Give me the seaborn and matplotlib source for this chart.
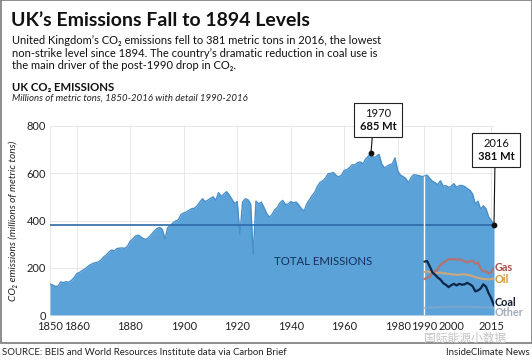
import numpy as np
import pandas as pd
import seaborn as sns
import matplotlib.pyplot as plt
from matplotlib.offsetbox import TextArea, VPacker, AnnotationBbox
from matplotlib.patches import Rectangle

# UK CO2 emissions, million tonnes, 1850-2016
years = np.arange(1850, 2017)
total = [
    131, 127, 121, 122, 140, 137, 141, 139, 146, 158,   # 1850s
    175, 180, 188, 194, 204, 212, 218, 222, 224, 232,   # 1860s
    245, 254, 266, 275, 271, 281, 283, 284, 282, 292,   # 1870s
    312, 322, 335, 338, 330, 323, 320, 330, 342, 356,   # 1880s
    366, 371, 362, 322, 370, 378, 390, 398, 403, 426,   # 1890s
    432, 436, 444, 450, 452, 462, 478, 492, 480, 486,   # 1900s
    494, 500, 485, 518, 502, 512, 522, 508, 490, 472,   # 1910s
    480, 340, 478, 492, 488, 470, 258, 482, 470, 478,   # 1920s
    455, 430, 414, 425, 445, 455, 475, 485, 468, 470,   # 1930s
    480, 475, 478, 466, 450, 440, 470, 488, 505, 520,   # 1940s
    545, 562, 568, 580, 598, 600, 603, 590, 585, 592,   # 1950s
    612, 615, 624, 636, 635, 645, 648, 640, 660, 672,   # 1960s
    685, 665, 672, 680, 640, 622, 630, 636, 640, 665,   # 1970s
    610, 592, 586, 578, 560, 582, 594, 592, 590, 586,   # 1980s
    588, 592, 578, 566, 560, 552, 568, 545, 548, 540,   # 1990s
    545, 556, 540, 548, 548, 544, 535, 528, 512, 470,   # 2000s
    482, 448, 462, 450, 415, 400, 381,                  # 2010-2016
]

# detail by fuel, 1990-2016
fuel_years = np.arange(1990, 2017)
coal = [226, 228, 205, 180, 170, 158, 150, 135, 128, 118, 126, 132, 125, 132,
        128, 130, 136, 130, 122, 100, 104, 112, 130, 120, 92, 70, 40]
gas = [152, 158, 162, 178, 185, 195, 212, 220, 228, 236, 236, 238, 234, 236,
       232, 228, 222, 228, 230, 218, 222, 196, 186, 184, 176, 180, 200]
oil = [182, 184, 183, 182, 180, 178, 180, 176, 176, 174, 172, 172, 170, 170,
       172, 172, 170, 168, 165, 160, 158, 155, 152, 152, 150, 152, 155]
other = [30, 31, 31, 32, 32, 33, 33, 34, 34, 34, 35, 35, 35, 35,
         35, 35, 35, 35, 34, 33, 33, 33, 33, 33, 32, 32, 31]

tick_years = [1850, 1860, 1880, 1900, 1920, 1940, 1960, 1980, 1990, 2000, 2015]
y_ticks = [0, 200, 400, 600, 800]

sns.set_theme(style="whitegrid")
plt.rcParams['font.family'] = ['Lato', 'DejaVu Sans']

W, H = 532, 360
fx = lambda px: px / W
fy = lambda py: 1 - py / H

fig = plt.figure(figsize=(W / 100, H / 100), dpi=100)
ax = fig.add_axes([fx(50), 45 / H, 444 / W, 189 / H])

df = pd.DataFrame({'year': years, 'total': total})
fuels = pd.DataFrame({'year': fuel_years, 'Coal': coal, 'Gas': gas,
                      'Oil': oil, 'Other': other})

ax.fill_between(df['year'], df['total'], color='#5aa2d8', lw=0, zorder=2)
sns.lineplot(data=df, x='year', y='total', color='#4a8fc8', lw=1, ax=ax, zorder=3)

# 2016 level reference line
ax.axhline(total[-1], color='#2d6aa8', lw=1.2, zorder=4)
ax.vlines(1990, 0, total[1990 - 1850], color='white', lw=1, zorder=4)

fuel_colors = {'Gas': '#b27472', 'Oil': '#c9a880', 'Coal': '#0c2648', 'Other': '#90a8c8'}
for name in ['Other', 'Oil', 'Gas', 'Coal']:
    sns.lineplot(data=fuels, x='year', y=name, color=fuel_colors[name],
                 lw=1.6, alpha=0.6 if name == 'Other' else 1, ax=ax, zorder=5)

label_colors = {'Gas': '#a8524a', 'Oil': '#d4962f', 'Coal': '#111a2a', 'Other': '#a3abb8'}
label_y = {'Gas': 200, 'Oil': 152, 'Coal': 54, 'Other': 9}
for name, yv in label_y.items():
    ax.text(2016.3, yv, name, color=label_colors[name], fontsize=7.8,
            fontweight='bold', va='center', ha='left', clip_on=False)

ax.text(1952, 225, 'TOTAL EMISSIONS', color='#15305a', fontsize=8.2,
        ha='center', va='center', zorder=6)

ax.set_xlim(1850, 2016)
ax.set_ylim(0, 800)
ax.set_xticks(tick_years)
ax.set_xticklabels([str(t) for t in tick_years])
ax.set_yticks(y_ticks)
ax.tick_params(axis='both', length=0, labelsize=8, colors='#222222')
ax.tick_params(axis='x', pad=4.5)
ax.tick_params(axis='y', pad=3)
ax.grid(color='#e4e4e4', lw=0.6)
ax.set_axisbelow(True)
for s in ax.spines.values():
    s.set_visible(False)
ax.set_xlabel('')
ax.set_ylabel('CO₂ emissions (millions of metric tons)', fontsize=7.3,
              fontstyle='italic', color='#222222', labelpad=6)

# callouts
def callout(year, value, dx, dy, rx):
    box = VPacker(children=[
        TextArea(str(year), textprops=dict(size=8, color='#111111')),
        TextArea(f'{value} Mt', textprops=dict(size=8, weight='bold', color='#111111')),
    ], align='center', pad=0, sep=1)
    ab = AnnotationBbox(box, (year, value), xybox=(dx, dy), boxcoords='offset points',
                        frameon=True, pad=0.35, annotation_clip=False,
                        bboxprops=dict(edgecolor='#222222', lw=0.8, facecolor='white'),
                        arrowprops=dict(arrowstyle='-', color='#111111', lw=0.8,
                                        shrinkA=0, shrinkB=0, relpos=(rx, 0)))
    ab.set_zorder(7)
    ax.add_artist(ab)
    ax.scatter([year], [value], s=10, color='#111111', zorder=8, clip_on=False)

callout(1970, total[1970 - 1850], 5, 24, 0.36)
callout(2016, total[-1], 1.5, 54, 0.47)

# header texts
fig.text(fx(11), fy(26), 'UK’s Emissions Fall to 1894 Levels', fontsize=14,
         fontweight='bold', color='#111111', va='baseline')
sub = ['United Kingdom’s CO₂ emissions fell to 381 metric tons in 2016, the lowest',
       'non-strike level since 1894. The country’s dramatic reduction in coal use is',
       'the main driver of the post-1990 drop in CO₂.']
for i, line in enumerate(sub):
    fig.text(fx(12), fy(44 + 12.7 * i), line, fontsize=8, color='#111111', va='baseline')
fig.text(fx(12), fy(90.5), 'UK CO₂ EMISSIONS', fontsize=8.2, fontweight='bold',
         color='#111111', va='baseline')
fig.text(fx(12), fy(100.5), 'Millions of metric tons, 1850-2016 with detail 1990-2016',
         fontsize=6.9, fontstyle='italic', color='#222222', va='baseline')

# frame and footer
fig.patches.append(Rectangle((fx(0.5), fy(343)), fx(531), 343 / H, transform=fig.transFigure,
                             fill=False, edgecolor='#7a7a7a', lw=1.2))
fig.text(fx(2), fy(355), 'SOURCE: BEIS and World Resources Institute data via Carbon Brief',
         fontsize=6.9, color='#222222', va='baseline')
fig.text(fx(530), fy(355), 'InsideClimate News', fontsize=6.9, color='#222222',
         va='baseline', ha='right')
fig.text(fx(424), fy(338), '国际能源小数据', fontsize=8.5, color='#c4c4c4', va='center',
         family=['Noto Sans CJK SC', 'DejaVu Sans'])

fig.savefig('out.png', dpi=100)
